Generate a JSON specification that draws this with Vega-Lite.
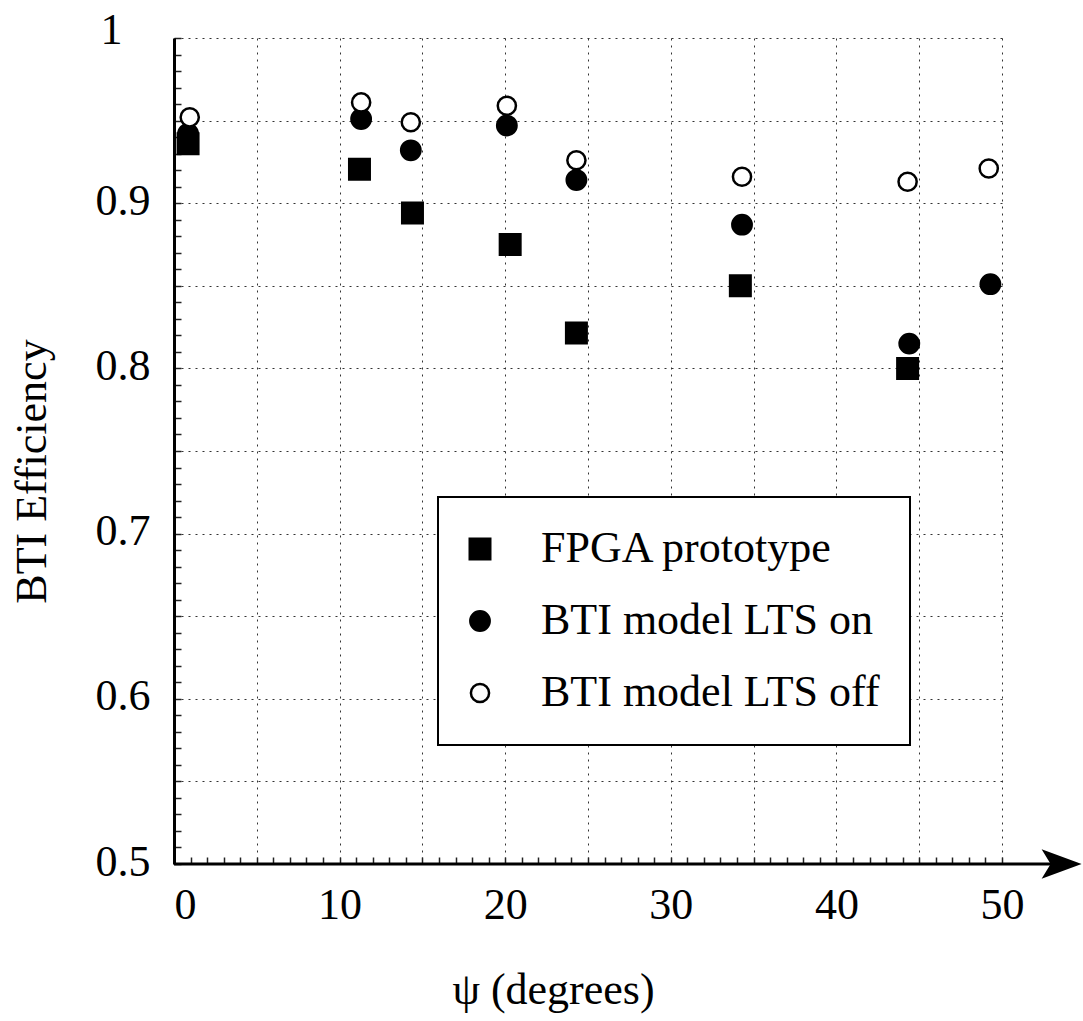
{
  "$schema": "https://vega.github.io/schema/vega-lite/v6.json",
  "width": 828,
  "height": 826,
  "autosize": {"type": "none"},
  "padding": {"left": 174, "top": 38, "right": 81, "bottom": 157},
  "background": "white",
  "config": {
    "view": {"stroke": null},
    "font": "Liberation Serif, Times New Roman, serif",
    "axis": {
      "labelFont": "Liberation Serif, Times New Roman, serif",
      "titleFont": "Liberation Serif, Times New Roman, serif",
      "labelFontSize": 44,
      "titleFontSize": 44,
      "titleFontWeight": "normal",
      "labelColor": "black",
      "titleColor": "black",
      "tickColor": "#222",
      "tickWidth": 1.5,
      "gridColor": "#333",
      "gridDash": [2, 5],
      "gridWidth": 1
    },
    "legend": {"strokeWidth": 2}
  },
  "data": {
    "values": [
      {"series": "FPGA prototype", "psi": 0.85, "eff": 0.936},
      {"series": "FPGA prototype", "psi": 11.2, "eff": 0.9205},
      {"series": "FPGA prototype", "psi": 14.4, "eff": 0.894},
      {"series": "FPGA prototype", "psi": 20.3, "eff": 0.875},
      {"series": "FPGA prototype", "psi": 24.3, "eff": 0.8215},
      {"series": "FPGA prototype", "psi": 34.2, "eff": 0.85},
      {"series": "FPGA prototype", "psi": 44.3, "eff": 0.8},
      {"series": "BTI model LTS on", "psi": 0.85, "eff": 0.942},
      {"series": "BTI model LTS on", "psi": 11.3, "eff": 0.951},
      {"series": "BTI model LTS on", "psi": 14.3, "eff": 0.932},
      {"series": "BTI model LTS on", "psi": 20.1, "eff": 0.947},
      {"series": "BTI model LTS on", "psi": 24.3, "eff": 0.914},
      {"series": "BTI model LTS on", "psi": 34.3, "eff": 0.887},
      {"series": "BTI model LTS on", "psi": 44.4, "eff": 0.815},
      {"series": "BTI model LTS on", "psi": 49.3, "eff": 0.851},
      {"series": "BTI model LTS off", "psi": 0.95, "eff": 0.952},
      {"series": "BTI model LTS off", "psi": 11.3, "eff": 0.961},
      {"series": "BTI model LTS off", "psi": 14.3, "eff": 0.949},
      {"series": "BTI model LTS off", "psi": 20.1, "eff": 0.959},
      {"series": "BTI model LTS off", "psi": 24.3, "eff": 0.926},
      {"series": "BTI model LTS off", "psi": 34.3, "eff": 0.916},
      {"series": "BTI model LTS off", "psi": 44.3, "eff": 0.913},
      {"series": "BTI model LTS off", "psi": 49.2, "eff": 0.921}
    ]
  },
  "layer": [
    {
      "data": {"values": [{}]},
      "mark": {"type": "rule", "color": "black", "strokeWidth": 3},
      "encoding": {
        "x": {"datum": 0, "type": "quantitative"},
        "x2": {"datum": 52.96},
        "y": {"datum": 0.5, "type": "quantitative"}
      }
    },
    {
      "data": {"values": [{}]},
      "mark": {"type": "point", "filled": true, "fill": "black", "strokeWidth": 0, "opacity": 1, "size": 1600, "shape": "M 1 0 L -1 -0.74 L -0.55 0 L -1 0.74 Z"},
      "encoding": {
        "x": {"datum": 53.6, "type": "quantitative"},
        "y": {"datum": 0.5, "type": "quantitative"}
      }
    },
    {
      "mark": {"type": "point", "filled": true, "stroke": "black", "strokeWidth": 2.5, "opacity": 1},
      "encoding": {
        "x": {
          "field": "psi", "type": "quantitative",
          "scale": {"domain": [0, 50], "nice": false, "zero": false},
          "axis": {
            "values": [0,1,2,3,4,5,6,7,8,9,10,11,12,13,14,15,16,17,18,19,20,21,22,23,24,25,26,27,28,29,30,31,32,33,34,35,36,37,38,39,40,41,42,43,44,45,46,47,48,49,50],
            "tickCount": 500,
            "domain": false,
            "grid": true,
            "gridOpacity": {"condition": {"test": "datum.value % 5 == 0", "value": 1}, "value": 0},
            "tickSize": -7,
            "labelPadding": 26,
            "labelBaseline": "top",
            "labelOverlap": false,
            "labelBound": false,
            "labelFlush": false,
            "labelAlign": {"condition": {"test": "datum.value == 0", "value": "left"}, "value": "center"},
            "labelExpr": "datum.value % 10 == 0 ? format(datum.value, 'd') : ''",
            "title": "ψ (degrees)",
            "titleX": 379,
            "titleY": 139,
            "titleAnchor": "middle",
            "titleAlign": "center",
            "titleBaseline": "alphabetic"
          }
        },
        "y": {
          "field": "eff", "type": "quantitative",
          "scale": {"domain": [0.5, 1], "nice": false, "zero": false},
          "axis": {
            "values": [0.5,0.51,0.52,0.53,0.54,0.55,0.56,0.57,0.58,0.59,0.6,0.61,0.62,0.63,0.64,0.65,0.66,0.67,0.68,0.69,0.7,0.71,0.72,0.73,0.74,0.75,0.76,0.77,0.78,0.79,0.8,0.81,0.82,0.83,0.84,0.85,0.86,0.87,0.88,0.89,0.9,0.91,0.92,0.93,0.94,0.95,0.96,0.97,0.98,0.99,1],
            "tickCount": 500,
            "domain": true,
            "domainColor": "black",
            "domainWidth": 3,
            "grid": true,
            "gridOpacity": {"condition": {"test": "abs(datum.value*20 - round(datum.value*20)) < 0.001", "value": 1}, "value": 0},
            "tickSize": -7,
            "labelPadding": {"condition": {"test": "datum.value == 1", "value": 59}, "value": 31},
            "labelOffset": {"condition": {"test": "datum.value == 1", "value": -8}, "value": -2},
            "labelOverlap": false,
            "labelBound": false,
            "labelFlush": false,
            "labelExpr": "abs(datum.value*10 - round(datum.value*10)) < 0.001 ? format(datum.value, '~g') : ''",
            "title": "BTI Efficiency",
            "titleX": -129,
            "titleY": 433,
            "titleAngle": -90,
            "titleAlign": "center",
            "titleBaseline": "alphabetic"
          }
        },
        "shape": {
          "field": "series", "type": "nominal",
          "scale": {"domain": ["FPGA prototype", "BTI model LTS on", "BTI model LTS off"], "range": ["square", "circle", "circle"]},
          "legend": {
            "title": null,
            "orient": "none",
            "legendX": 264,
            "legendY": 459,
            "padding": 30,
            "strokeColor": "black",
            "fillColor": "white",
            "labelFont": "Liberation Serif, Times New Roman, serif",
            "labelFontSize": 44,
            "labelColor": "black",
            "labelOffset": 39,
            "symbolOffset": -10,
            "rowPadding": 28,
            "symbolStrokeColor": "black",
            "symbolStrokeWidth": 2.5,
            "labelLimit": 600
          }
        },
        "fill": {
          "field": "series", "type": "nominal",
          "scale": {"domain": ["FPGA prototype", "BTI model LTS on", "BTI model LTS off"], "range": ["black", "black", "white"]}
        },
        "size": {
          "field": "series", "type": "nominal",
          "scale": {"domain": ["FPGA prototype", "BTI model LTS on", "BTI model LTS off"], "range": [420, 330, 300]}
        }
      }
    }
  ]
}
